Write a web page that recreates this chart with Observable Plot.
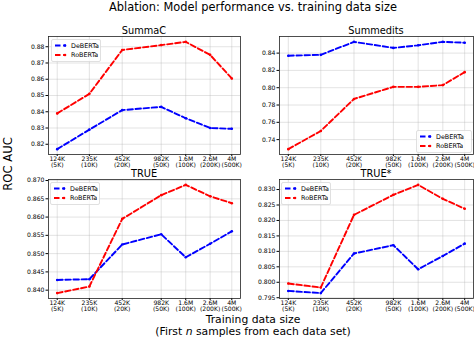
<!DOCTYPE html>
<html>
<head>
<meta charset="utf-8">
<script src="https://cdn.jsdelivr.net/npm/d3@7"></script>
<script src="https://cdn.jsdelivr.net/npm/@observablehq/plot@0.6"></script>
<style>
  html, body { margin: 0; padding: 0; background: #fff; }
  #fig { position: relative; width: 474px; height: 364px; overflow: hidden; font-family: "DejaVu Sans", sans-serif; color: #000; }
  .abs { position: absolute; white-space: nowrap; }
  .ctr { transform: translateX(-50%); }
</style>
</head>
<body>
<div id="fig"></div>
<script>
// ---------- data ----------
const tokens = [124e3, 235e3, 452e3, 982e3, 1.6e6, 2.6e6, 4e6];
const tokenLabels = ["124K", "235K", "452K", "982K", "1.6M", "2.6M", "4M"];
const sampleLabels = ["(5K)", "(10K)", "(20K)", "(50K)", "(100K)", "(200K)", "(500K)"];
const models = ["DeBERTa", "RoBERTa"];

const summacDeberta = [0.817, 0.829, 0.841, 0.843, 0.836, 0.830, 0.8295];
const summacRoberta = [0.839, 0.851, 0.878, 0.881, 0.883, 0.875, 0.8605];
const summeditsDeberta = [0.837, 0.838, 0.853, 0.846, 0.849, 0.853, 0.852];
const summeditsRoberta = [0.729, 0.750, 0.787, 0.801, 0.801, 0.803, 0.818];
const trueDeberta = [0.8428, 0.8430, 0.8525, 0.8553, 0.8490, 0.8527, 0.8561];
const trueRoberta = [0.8392, 0.8410, 0.8595, 0.8660, 0.8688, 0.8657, 0.8638];
const trueStarDeberta = [0.7972, 0.7965, 0.8093, 0.8120, 0.8042, 0.8085, 0.8125];
const trueStarRoberta = [0.7996, 0.7983, 0.8218, 0.8283, 0.8315, 0.8270, 0.8238];

const summacTicks = [0.82, 0.83, 0.84, 0.85, 0.86, 0.87, 0.88];
const summeditsTicks = [0.74, 0.76, 0.78, 0.80, 0.82, 0.84];
const trueTicks = [0.840, 0.845, 0.850, 0.855, 0.860, 0.865, 0.870];
const trueStarTicks = [0.795, 0.800, 0.805, 0.810, 0.815, 0.820, 0.825, 0.830];

const titles = ["SummaC", "Summedits", "TRUE", "TRUE*"];
const colors = {DeBERTa: "#0000ff", RoBERTa: "#ff0000"};

// ---------- helpers ----------
const fig = document.getElementById("fig");
const FONT = "DejaVu Sans, sans-serif";

function addText(txt, x, y, size, extra = "") {
  const d = document.createElement("div");
  d.className = "abs ctr";
  d.style.left = x + "px";
  d.style.top = y + "px";
  d.style.fontSize = size + "px";
  d.style.lineHeight = "1";
  if (extra) d.style.cssText += extra;
  d.innerHTML = txt;
  fig.appendChild(d);
  return d;
}

function padLinear(vals) {
  const [a, b] = d3.extent(vals);
  const m = (b - a) * 0.05;
  return [a - m, b + m];
}
// x positions use the base-10 logarithm of the token count (log axis)
const logTokens = tokens.map(Math.log10);
const xDomain = padLinear(logTokens);

function panel({fx, fy, fw, fh, deb, rob, yTicks, yFmt}) {
  const ml = 40, mr = 2, mt = 3, mb = 18;
  const rows = [];
  tokens.forEach((t, i) => {
    rows.push({x: logTokens[i], y: deb[i], m: models[0]});
    rows.push({x: logTokens[i], y: rob[i], m: models[1]});
  });
  const plot = Plot.plot({
    width: fw + ml + mr,
    height: fh + mt + mb,
    marginLeft: ml, marginRight: mr, marginTop: mt, marginBottom: mb,
    style: {fontFamily: FONT, fontSize: "6.1px", background: "transparent", color: "#000"},
    x: {type: "linear", domain: xDomain},
    y: {domain: padLinear([...deb, ...rob])},
    color: {domain: models, range: models.map(m => colors[m])},
    marks: [
      Plot.gridX(logTokens, {stroke: "#b0b0b0", strokeOpacity: 0.45, strokeWidth: 0.8}),
      Plot.gridY(yTicks, {stroke: "#b0b0b0", strokeOpacity: 0.45, strokeWidth: 0.8}),
      Plot.axisX(logTokens, {
        tickSize: 2, tickPadding: 0.5, label: null, lineHeight: 1.0,
        tickFormat: (d) => { const i = logTokens.indexOf(d); return tokenLabels[i] + "\n" + sampleLabels[i]; }
      }),
      Plot.axisY(yTicks, {tickSize: 2.5, tickPadding: 1.5, label: null, tickFormat: d3.format(yFmt)}),
      Plot.line(rows, {x: "x", y: "y", z: "m", stroke: "m", strokeWidth: 1.9, strokeDasharray: "5.5,2.6"}),
      Plot.dot(rows, {x: "x", y: "y", fill: "m", r: 1.3, stroke: null}),
      Plot.frame({stroke: "#222", strokeWidth: 0.8})
    ]
  });
  plot.style.position = "absolute";
  plot.style.left = (fx - ml) + "px";
  plot.style.top = (fy - mt) + "px";
  fig.appendChild(plot);
}

function legend(x, y, w) {
  const h = 23;
  const svg = d3.create("svg").attr("width", w).attr("height", h)
    .style("position", "absolute").style("left", x + "px").style("top", y + "px");
  svg.append("rect").attr("x", 0.5).attr("y", 0.5).attr("width", w - 1).attr("height", h - 1)
    .attr("rx", 1.5).attr("fill", "rgba(255,255,255,0.8)").attr("stroke", "#d8d8d8").attr("stroke-width", 0.8);
  models.forEach((m, i) => {
    const yy = 6.5 + i * 9.5;
    svg.append("line").attr("x1", 4).attr("x2", 15).attr("y1", yy).attr("y2", yy)
      .attr("stroke", colors[m]).attr("stroke-width", 1.9).attr("stroke-dasharray", "5.5,2.6");
    svg.append("circle").attr("cx", 14).attr("cy", yy).attr("r", 1.3).attr("fill", colors[m]);
    svg.append("text").attr("x", 20).attr("y", yy).attr("dy", "0.35em")
      .attr("font-family", FONT).attr("font-size", 6.4).text(m);
  });
  fig.appendChild(svg.node());
}

// ---------- figure ----------
addText("Ablation: Model performance vs. training data size", 253, 2, 11.4);

const L = [48, 279], R = [240, 473], T = [36, 179], H = [118, 119];
const panels = [
  {deb: summacDeberta, rob: summacRoberta, yTicks: summacTicks, yFmt: ".2f"},
  {deb: summeditsDeberta, rob: summeditsRoberta, yTicks: summeditsTicks, yFmt: ".2f"},
  {deb: trueDeberta, rob: trueRoberta, yTicks: trueTicks, yFmt: ".3f"},
  {deb: trueStarDeberta, rob: trueStarRoberta, yTicks: trueStarTicks, yFmt: ".3f"}
];
panels.forEach((p, k) => {
  const c = k % 2, r = Math.floor(k / 2);
  const fx = L[c], fy = T[r], fw = R[c] - L[c], fh = H[r];
  panel({fx, fy, fw, fh, ...p});
  addText(titles[k], fx + fw / 2, fy - 10, 9.8);
});

legend(51, 39, 50);
legend(416, 130, 56);
legend(50, 182, 50);
legend(281, 182, 50);

// y label
addText("ROC AUC", 9, 164, 11.6, "transform: translate(-50%, -50%) rotate(-90deg);");
// x label
addText("Training data size", 253, 315, 10.8);
addText("(First <i>n</i> samples from each data set)", 253, 327, 10.8);
</script>
</body>
</html>
